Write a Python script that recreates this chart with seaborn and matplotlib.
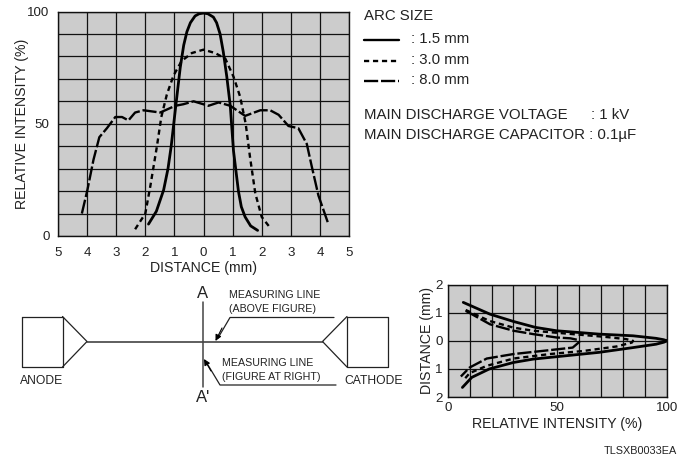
import matplotlib
matplotlib.use("Agg")
import matplotlib.pyplot as plt
import seaborn as sns

# Distance profile
dist_15 = [-1.89, -1.62, -1.37, -1.22, -1.11, -0.97, -0.8, -0.68, -0.57, -0.45, -0.29, -0.15, 0, 0.15, 0.34, 0.45, 0.57, 0.68, 0.8, 0.92, 1.03, 1.2, 1.3, 1.43, 1.62, 1.86]
int_15 = [5.3, 11, 20.5, 30, 40, 56, 75, 85, 91, 95, 98, 99, 99.3, 99, 97.5, 95, 90, 82, 71, 58, 38, 20, 13, 8.5, 4.5, 2.5]
dist_30 = [-2.35, -2, -1.83, -1.6, -1.45, -1.26, -1.03, -0.75, -0.4, 0, 0.4, 0.75, 1.03, 1.26, 1.45, 1.6, 1.78, 2, 2.3]
int_30 = [3, 10, 22, 40, 53, 63, 71.5, 78, 81.5, 83, 81.5, 79, 71, 62, 50, 35, 19, 8.5, 3.5]
dist_80 = [-4.18, -3.99, -3.78, -3.58, -3.32, -3.03, -2.8, -2.58, -2.35, -2.06, -1.49, -0.97, -0.69, -0.34, 0.17, 0.52, 0.92, 1.43, 1.95, 2.29, 2.58, 2.92, 3.26, 3.55, 3.72, 3.95, 4.3]
int_80 = [10, 20.5, 34, 44, 48, 53, 53, 51.5, 55, 56, 55, 58, 58.7, 60, 58, 59.5, 58, 53.5, 56, 56, 54, 49, 48, 41, 31, 18, 5]

# Lower chart, intensity against distance
rel_15 = [7.1, 19.3, 30, 40, 49.6, 69, 84.5, 95, 98.5, 100, 98.5, 95, 84.5, 69, 54, 39, 30, 19, 11, 6.7]
pos_15 = [1.37, 0.95, 0.69, 0.48, 0.36, 0.24, 0.18, 0.09, 0.04, 0, -0.05, -0.12, -0.24, -0.41, -0.53, -0.65, -0.77, -1, -1.3, -1.66]
rel_30 = [8.2, 19, 30, 39, 54, 72, 81.5, 84.5, 84, 77, 62, 46.6, 30, 17.8, 10, 7]
pos_30 = [1.1, 0.71, 0.47, 0.36, 0.26, 0.14, 0.06, 0, -0.06, -0.2, -0.36, -0.47, -0.63, -0.89, -1.15, -1.42]
rel_80 = [8.2, 19.3, 30, 39, 49.6, 56, 59.5, 60, 57, 46.6, 30, 17.8, 10, 6]
pos_80 = [1.07, 0.59, 0.36, 0.24, 0.12, 0.09, 0.03, -0.04, -0.24, -0.33, -0.47, -0.63, -0.95, -1.27]

dist_ticks = [-5, -4, -3, -2, -1, 0, 1, 2, 3, 4, 5]
dist_labels = ["5", "4", "3", "2", "1", "0", "1", "2", "3", "4", "5"]
pos_ticks = [-2, -1, 0, 1, 2]
pos_labels = ["2", "1", "0", "1", "2"]
arc_labels = [": 1.5 mm", ": 3.0 mm", ": 8.0 mm"]

# dash patterns for the three arc sizes
DASH_30 = (0, (2.2, 1.6))
DASH_80 = (0, (6, 1.2))
LW = 1.7
TXT = 10.2
SIDE = 10.8

sns.set_style("white")
plt.rcParams["font.family"] = ["Liberation Sans", "DejaVu Sans"]
plt.rcParams["text.color"] = "#222222"
plt.rcParams["axes.labelcolor"] = "#222222"

W, H = 693, 459
fig = plt.figure(figsize=(W / 100, H / 100), dpi=100, facecolor="white")


def px_axes(left, top, right, bottom):
    return fig.add_axes([left / W, 1 - bottom / H, (right - left) / W, (bottom - top) / H])


def style_axes(ax, size):
    ax.set_facecolor("#cccccc")
    ax.grid(True, color="#111111", lw=0.9)
    ax.set_axisbelow(True)
    for s in ax.spines.values():
        s.set_color("#111111")
        s.set_linewidth(1.0)
    ax.tick_params(length=0, labelsize=size, colors="#222222")


# Upper chart
ax = px_axes(58, 11.5, 349, 236)
style_axes(ax, 9.6)
ax.tick_params(axis="x", pad=8)
ax.tick_params(axis="y", pad=6)
sns.lineplot(x=dist_15, y=int_15, ax=ax, color="black", lw=LW + 0.3, sort=False, estimator=None)
sns.lineplot(x=dist_30, y=int_30, ax=ax, color="black", lw=LW, sort=False, estimator=None, linestyle=DASH_30)
sns.lineplot(x=dist_80, y=int_80, ax=ax, color="black", lw=LW, sort=False, estimator=None, linestyle=DASH_80)
ax.set_xlim(-5, 5)
ax.set_ylim(0, 100)
ax.set_xticks(dist_ticks)
ax.set_xticklabels(dist_labels)
ax.set_yticks(range(0, 101, 10))
ax.set_yticklabels(["0", "", "", "", "", "50", "", "", "", "", "100"])
ax.set_xlabel("DISTANCE (mm)", fontsize=TXT, labelpad=1.5)
ax.set_ylabel("RELATIVE INTENSITY (%)", fontsize=TXT, labelpad=-1)

# Lower chart
ax2 = px_axes(447.7, 284.7, 667, 397)
style_axes(ax2, 9.6)
sns.lineplot(x=rel_15, y=pos_15, ax=ax2, color="black", lw=LW + 0.3, sort=False, estimator=None)
sns.lineplot(x=rel_30, y=pos_30, ax=ax2, color="black", lw=LW, sort=False, estimator=None, linestyle=DASH_30)
sns.lineplot(x=rel_80, y=pos_80, ax=ax2, color="black", lw=LW, sort=False, estimator=None, linestyle=DASH_80)
ax2.set_xlim(0, 100)
ax2.set_ylim(-2, 2)
ax2.set_xticks(range(0, 101, 10))
ax2.set_xticklabels(["0", "", "", "", "", "50", "", "", "", "", "100"])
ax2.set_yticks(pos_ticks)
ax2.set_yticklabels(pos_labels)
ax2.set_xlabel("RELATIVE INTENSITY (%)", fontsize=TXT, labelpad=2)
ax2.set_ylabel("DISTANCE (mm)", fontsize=TXT, labelpad=1)

# Overlay in pixel coordinates for the legend block and electrode sketch
ov = fig.add_axes([0, 0, 1, 1], zorder=5)
ov.set_xlim(0, W)
ov.set_ylim(H, 0)
ov.axis("off")

ov.text(364, 16.5, "ARC SIZE", fontsize=SIDE, va="center")
legend_y = [39.5, 60.5, 80.5]
for y, lab, st in zip(legend_y, arc_labels, ["-", DASH_30, DASH_80]):
    ov.plot([364, 399], [y, y], color="black", lw=LW, linestyle=st)
    ov.text(411, y - 0.5, lab, fontsize=SIDE, va="center")
ov.text(364, 115, "MAIN DISCHARGE VOLTAGE", fontsize=SIDE, va="center")
ov.text(591, 115, ": 1 kV", fontsize=SIDE, va="center")
ov.text(364, 135, "MAIN DISCHARGE CAPACITOR : 0.1\u00b5F", fontsize=SIDE, va="center")

# Electrodes
sk = dict(color="#222222", lw=0.9)
ov.plot([21.5, 62.5, 62.5, 21.5, 21.5], [316.5, 316.5, 367, 367, 316.5], **sk)
ov.plot([62.5, 87, 62.5], [316.5, 341.5, 367], **sk)
ov.plot([388, 347, 347, 388, 388], [316.5, 316.5, 367, 367, 316.5], **sk)
ov.plot([347, 322.5, 347], [316.5, 341.5, 367], **sk)
ov.plot([87, 322.5], [341.5, 341.5], color="#333333", lw=1.1)
ov.plot([203, 203], [302, 387], color="#444444", lw=1.1)

# Leader lines with arrow heads
ov.plot([334, 230, 218], [317.5, 317.5, 338], **sk)
ov.annotate("", xy=(215.5, 341), xytext=(222, 328),
            arrowprops=dict(arrowstyle="-|>", color="black", lw=0.8, mutation_scale=9, shrinkA=0, shrinkB=0))
ov.plot([336, 220, 208], [385, 385, 365], **sk)
ov.annotate("", xy=(204, 359), xytext=(211, 371),
            arrowprops=dict(arrowstyle="-|>", color="black", lw=0.8, mutation_scale=9, shrinkA=0, shrinkB=0))

ov.text(203, 293, "A", fontsize=12, ha="center", va="center")
ov.text(203, 397, "A'", fontsize=12, ha="center", va="center")
ov.text(229, 294.5, "MEASURING LINE", fontsize=7.7, va="center")
ov.text(229, 308.5, "(ABOVE FIGURE)", fontsize=7.7, va="center")
ov.text(222.5, 362.5, "MEASURING LINE", fontsize=7.7, va="center")
ov.text(222.5, 377, "(FIGURE AT RIGHT)", fontsize=7.7, va="center")
ov.text(20, 380.5, "ANODE", fontsize=8.7, va="center")
ov.text(344, 380.5, "CATHODE", fontsize=8.7, va="center")
ov.text(604, 451, "TLSXB0033EA", fontsize=7.8, va="center")

fig.savefig("out.png", dpi=100)
